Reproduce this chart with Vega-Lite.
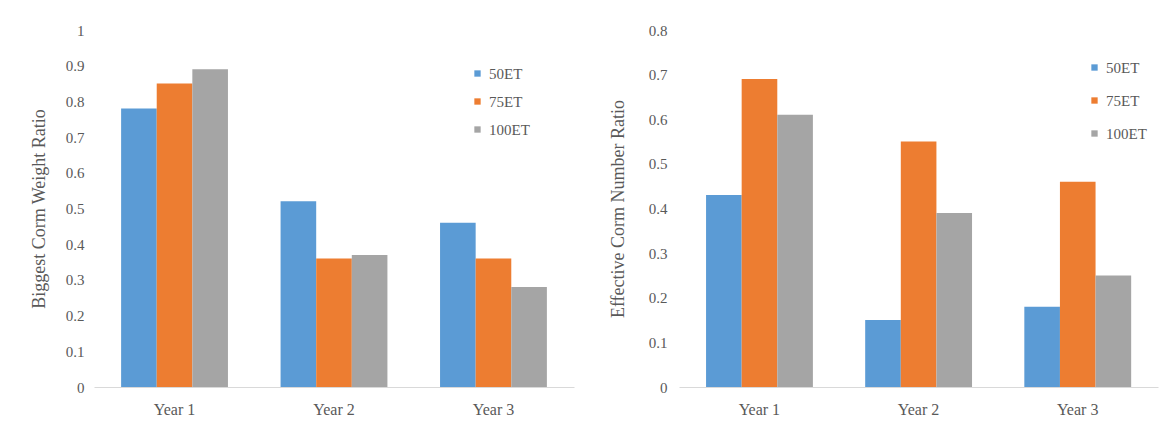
{
  "$schema": "https://vega.github.io/schema/vega-lite/v6.json",
  "padding": {"left": 30, "top": 23, "right": 5, "bottom": 5},
  "background": "white",
  "datasets": {
    "weight": [
      {"year": "Year 1", "treatment": "50ET", "value": 0.78},
      {"year": "Year 1", "treatment": "75ET", "value": 0.85},
      {"year": "Year 1", "treatment": "100ET", "value": 0.89},
      {"year": "Year 2", "treatment": "50ET", "value": 0.52},
      {"year": "Year 2", "treatment": "75ET", "value": 0.36},
      {"year": "Year 2", "treatment": "100ET", "value": 0.37},
      {"year": "Year 3", "treatment": "50ET", "value": 0.46},
      {"year": "Year 3", "treatment": "75ET", "value": 0.36},
      {"year": "Year 3", "treatment": "100ET", "value": 0.28}
    ],
    "number": [
      {"year": "Year 1", "treatment": "50ET", "value": 0.43},
      {"year": "Year 1", "treatment": "75ET", "value": 0.69},
      {"year": "Year 1", "treatment": "100ET", "value": 0.61},
      {"year": "Year 2", "treatment": "50ET", "value": 0.15},
      {"year": "Year 2", "treatment": "75ET", "value": 0.55},
      {"year": "Year 2", "treatment": "100ET", "value": 0.39},
      {"year": "Year 3", "treatment": "50ET", "value": 0.18},
      {"year": "Year 3", "treatment": "75ET", "value": 0.46},
      {"year": "Year 3", "treatment": "100ET", "value": 0.25}
    ]
  },
  "spacing": 35,
  "resolve": {"legend": {"color": "independent"}, "scale": {"y": "independent"}},
  "hconcat": [
    {
      "width": 480,
      "height": 357,
      "data": {"name": "weight"},
      "mark": {"type": "bar"},
      "encoding": {
        "x": {"field": "year", "type": "nominal", "title": null,
              "scale": {"paddingInner": 0.33, "paddingOuter": 0.17},
              "axis": {"labelAngle": 0, "ticks": false, "labelPadding": 14}},
        "xOffset": {"field": "treatment", "type": "nominal", "sort": ["50ET", "75ET", "100ET"]},
        "y": {"field": "value", "type": "quantitative", "title": "Biggest Corm Weight Ratio",
              "scale": {"domain": [0, 1]},
              "axis": {"values": [0, 0.1, 0.2, 0.3, 0.4, 0.5, 0.6, 0.7, 0.8, 0.9, 1], "labelExpr": "'' + round(datum.value*10)/10", "titlePadding": 17, "labelPadding": 10}},
        "color": {"field": "treatment", "type": "nominal", "sort": ["50ET", "75ET", "100ET"],
                  "scale": {"domain": ["50ET", "75ET", "100ET"], "range": ["#5B9BD5", "#ED7D31", "#A5A5A5"]},
                  "legend": {"title": null, "orient": "none", "legendX": 376, "legendY": 36, "rowPadding": 12}}
      }
    },
    {
      "width": 479,
      "height": 357,
      "data": {"name": "number"},
      "mark": {"type": "bar"},
      "encoding": {
        "x": {"field": "year", "type": "nominal", "title": null,
              "scale": {"paddingInner": 0.33, "paddingOuter": 0.17},
              "axis": {"labelAngle": 0, "ticks": false, "labelPadding": 14}},
        "xOffset": {"field": "treatment", "type": "nominal", "sort": ["50ET", "75ET", "100ET"]},
        "y": {"field": "value", "type": "quantitative", "title": "Effective Corm Number Ratio",
              "scale": {"domain": [0, 0.8]},
              "axis": {"values": [0, 0.1, 0.2, 0.3, 0.4, 0.5, 0.6, 0.7, 0.8], "labelExpr": "'' + round(datum.value*10)/10", "titlePadding": 21, "labelPadding": 12}},
        "color": {"field": "treatment", "type": "nominal", "sort": ["50ET", "75ET", "100ET"],
                  "scale": {"domain": ["50ET", "75ET", "100ET"], "range": ["#5B9BD5", "#ED7D31", "#A5A5A5"]},
                  "legend": {"title": null, "orient": "none", "legendX": 408, "legendY": 30, "rowPadding": 17}}
      }
    }
  ],
  "config": {
    "view": {"stroke": null},
    "font": "Liberation Serif",
    "axis": {"labelFont": "Liberation Serif", "titleFont": "Liberation Serif", "labelFontSize": 15, "titleFontSize": 18, "titleFontWeight": "normal", "labelColor": "#595959", "titleColor": "#595959", "grid": false},
    "axisY": {"domain": false, "ticks": false},
    "axisX": {"domainColor": "#D9D9D9", "domainWidth": 1, "labelFontSize": 16},
    "legend": {"labelFont": "Liberation Serif", "labelFontSize": 15, "labelColor": "#595959", "symbolType": "square", "symbolSize": 40, "symbolStrokeWidth": 0}
  }
}
